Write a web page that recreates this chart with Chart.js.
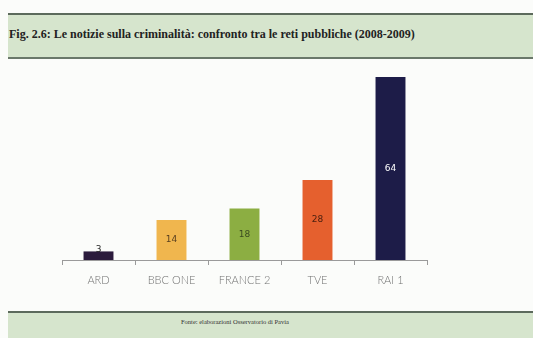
<!DOCTYPE html>
<html>
<head>
<meta charset="utf-8">
<script src="https://cdn.jsdelivr.net/npm/chart.js@4"></script>
<style>
  body { margin: 0; width: 533px; height: 338px; background: #fbfcfa; position: relative; overflow: hidden; }
  .bar { position: absolute; left: 8px; right: 0; background: #d6e5cd; border-top: 2px solid #5c6a5c; }
  #titolo { top: 13px; height: 42px; border-bottom: 2px solid #6a786a; }
  #titolo span { position: absolute; left: 1px; top: 12px; font: bold 12px "Liberation Serif", serif; color: #222; white-space: nowrap; }
  #fonte { top: 311px; height: 30px; }
  #fonte span { position: absolute; left: 173px; top: 5px; font: 6.5px "Liberation Serif", serif; color: #333; white-space: nowrap; }
  #box { position: absolute; left: 0; top: 0; width: 533px; height: 338px; }
</style>
</head>
<body>
<div class="bar" id="titolo"><span>Fig. 2.6: Le notizie sulla criminalità: confronto tra le reti pubbliche (2008-2009)</span></div>
<div class="bar" id="fonte"><span>Fonte: elaborazioni Osservatorio di Pavia</span></div>
<div id="box"><canvas id="grafico" width="533" height="338"></canvas></div>
<script>
// dati
const reti = ['ARD', 'BBC ONE', 'FRANCE 2', 'TVE', 'RAI 1'];
const notizie = [3, 14, 18, 28, 64];
const colori = ['#2b1b3c', '#f0b64e', '#8cae42', '#e5602e', '#1d1c48'];
const coloriEtichette = ['#222', '#5a4020', '#3a4a20', '#4a2010', '#ffffff'];

// etichette dei valori dentro le barre
const etichette = {
    id: 'etichette',
    afterDatasetsDraw(chart) {
        const ctx = chart.ctx;
        const barre = chart.getDatasetMeta(0).data;
        ctx.save();
        ctx.font = '9px "DejaVu Sans", sans-serif';
        ctx.textAlign = 'center';
        ctx.textBaseline = 'middle';
        barre.forEach((b, i) => {
            let y = (b.y + b.base) / 2;
            if (b.base - b.y < 14) y = b.y - 2;
            ctx.fillStyle = coloriEtichette[i];
            ctx.fillText(notizie[i], b.x, y);
        });
        ctx.restore();
    }
};

new Chart(document.getElementById('grafico'), {
    type: 'bar',
    data: {
        labels: reti,
        datasets: [{
            data: notizie,
            backgroundColor: colori,
            barPercentage: 0.82,
            categoryPercentage: 0.5
        }]
    },
    options: {
        responsive: false,
        animation: false,
        layout: { padding: { left: 62, right: 106, top: 77, bottom: 38 } },
        plugins: { legend: { display: false }, tooltip: { enabled: false } },
        scales: {
            x: {
                afterFit(s) { s.height = 40; },
                border: { color: '#9a9a9a', width: 1 },
                grid: { drawOnChartArea: false, tickLength: 5, color: '#9a9a9a', offset: true },
                ticks: { color: '#707070', font: { family: 'Lato', size: 11, weight: '300' }, padding: 9 }
            },
            y: { display: false, min: 0, max: 64 }
        }
    },
    plugins: [etichette]
});
</script>
</body>
</html>
